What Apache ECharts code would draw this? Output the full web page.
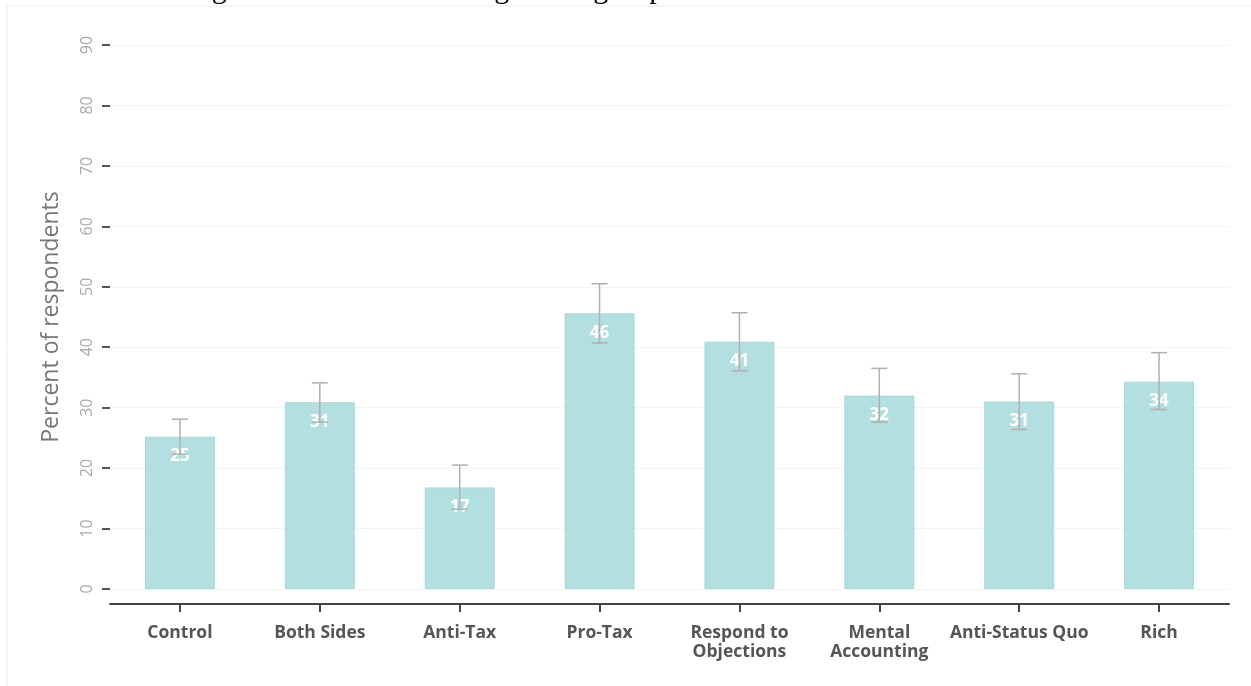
<!DOCTYPE html>
<html>
<head>
<meta charset="utf-8">
<script src="https://cdn.jsdelivr.net/npm/echarts@6/dist/echarts.min.js"></script>
<style>
html,body{margin:0;padding:0;background:#fff;}
#chart{width:1251px;height:686px;}
</style>
</head>
<body>
<div id="chart"></div>
<script>
const categories = ['Control', 'Both Sides', 'Anti-Tax', 'Pro-Tax', 'Respond to\nObjections', 'Mental\nAccounting', 'Anti-Status Quo', 'Rich'];
const values = [25.2, 30.9, 16.8, 45.6, 40.9, 32.0, 31.0, 34.3];
const errLower = [22.3, 27.6, 13.2, 40.7, 36.1, 27.6, 26.4, 29.7];
const errUpper = [28.1, 34.1, 20.5, 50.5, 45.7, 36.5, 35.6, 39.1];
const yTicks = [0, 10, 20, 30, 40, 50, 60, 70, 80, 90];
const titleText = 'Figure 3: Percent Favoring Raising Capital Gains Tax Across Treatments';

const chart = echarts.init(document.getElementById('chart'));
const errData = categories.map((c, i) => [i, errLower[i], errUpper[i]]);

chart.setOption({
  animation: false,
  backgroundColor: '#ffffff',
  title: {
    text: titleText,
    left: 'center',
    top: -30,
    textStyle: { fontFamily: 'Liberation Serif', fontSize: 30, fontWeight: 'normal', color: '#000' }
  },
  graphic: [{
    type: 'rect',
    shape: { x: 7, y: 6, width: 1260, height: 700 },
    style: { fill: 'none', stroke: '#e4eeee', lineWidth: 1 },
    silent: true, z: -10
  }],
  grid: { left: 110, right: 22, top: 45, bottom: 97, containLabel: false },
  xAxis: {
    type: 'category',
    data: categories,
    offset: 15,
    axisLine: { show: true, onZero: false, lineStyle: { color: '#444', width: 2 } },
    axisTick: { show: true, alignWithLabel: true, length: 8, lineStyle: { color: '#444', width: 2 } },
    axisLabel: {
      color: '#555', fontFamily: 'Open Sans', fontWeight: 'bold', fontSize: 17.5,
      margin: 20, lineHeight: 19, interval: 0
    },
    splitLine: { show: false }
  },
  yAxis: {
    type: 'value',
    min: yTicks[0],
    max: yTicks[yTicks.length - 1],
    interval: 10,
    name: 'Percent of respondents',
    nameLocation: 'middle',
    nameGap: 47,
    nameTextStyle: { fontFamily: 'Open Sans', fontSize: 23, color: '#777' },
    axisLine: { show: false },
    axisTick: { show: true, length: 8, lineStyle: { color: '#555', width: 2 } },
    axisLabel: {
      rotate: 90, color: '#aaa', fontFamily: 'Open Sans', fontSize: 16, margin: 15
    },
    splitLine: { show: true, lineStyle: { color: '#f1f5f5', width: 1 } }
  },
  series: [
    {
      type: 'bar',
      data: values,
      barWidth: '50%',
      itemStyle: { color: '#b3dfe0', borderColor: '#a6d9db', borderWidth: 1 },
      label: {
        show: true,
        position: 'insideTop',
        distance: 11,
        color: '#fff',
        fontFamily: 'Open Sans',
        fontWeight: 'bold',
        fontSize: 17,
        formatter: p => Math.round(p.value)
      },
      z: 2
    },
    {
      type: 'custom',
      data: errData,
      z: 3,
      renderItem: function (params, api) {
        const x = api.value(0);
        const lo = api.coord([x, api.value(1)]);
        const hi = api.coord([x, api.value(2)]);
        const w = 8;
        const style = { stroke: '#b0b0b0', lineWidth: 1.5 };
        return {
          type: 'group',
          children: [
            { type: 'line', shape: { x1: lo[0], y1: lo[1], x2: hi[0], y2: hi[1] }, style: style },
            { type: 'line', shape: { x1: hi[0] - w, y1: hi[1], x2: hi[0] + w, y2: hi[1] }, style: style },
            { type: 'line', shape: { x1: lo[0] - w, y1: lo[1], x2: lo[0] + w, y2: lo[1] }, style: style }
          ]
        };
      }
    }
  ]
});
</script>
</body>
</html>
